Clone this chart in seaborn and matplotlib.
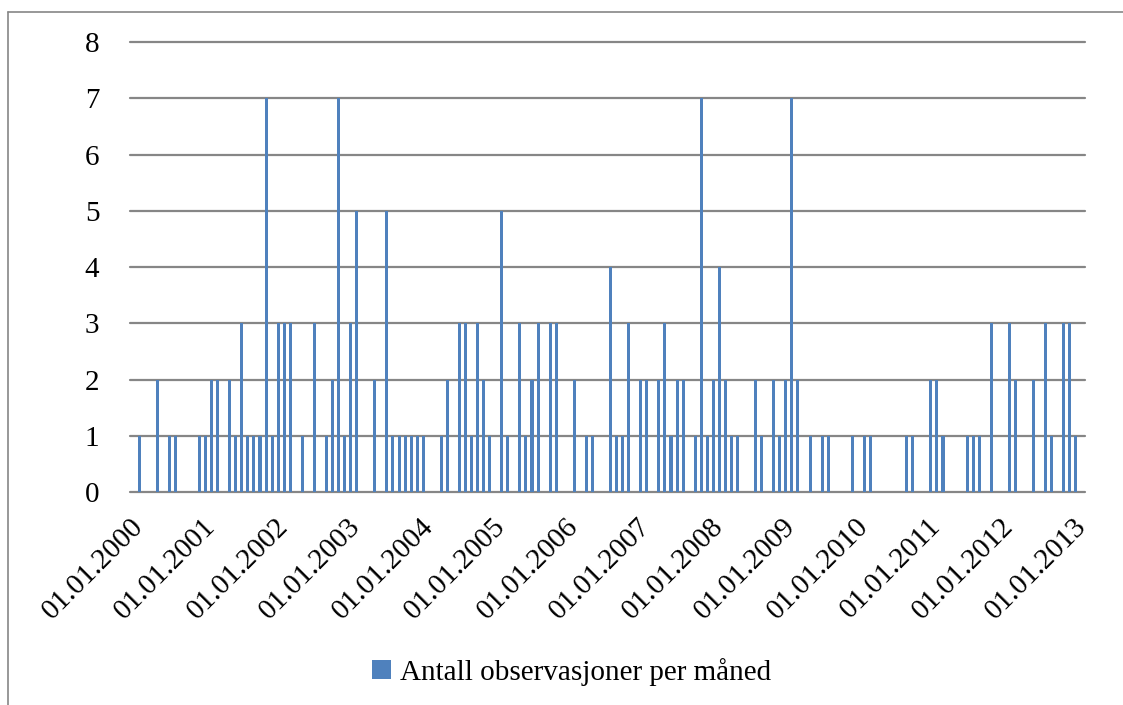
import numpy as np
import pandas as pd
import seaborn as sns
import matplotlib.pyplot as plt
from matplotlib.lines import Line2D
from matplotlib.patches import Patch

# Monthly number of observations, one list per calendar year (Jan..Dec)
counts_2000 = [1, 0, 0, 2, 0, 1, 1, 0, 0, 0, 1, 1]
counts_2001 = [2, 2, 0, 2, 1, 3, 1, 1, 1, 7, 1, 3]
counts_2002 = [3, 3, 0, 1, 0, 3, 0, 1, 2, 7, 1, 3]
counts_2003 = [5, 0, 0, 2, 0, 5, 1, 1, 1, 1, 1, 1]
counts_2004 = [0, 0, 1, 2, 0, 3, 3, 1, 3, 2, 1, 0]
counts_2005 = [5, 1, 0, 3, 1, 2, 3, 0, 3, 3, 0, 0]
counts_2006 = [2, 0, 1, 1, 0, 0, 4, 1, 1, 3, 0, 2]
counts_2007 = [2, 0, 2, 3, 1, 2, 2, 0, 1, 7, 1, 2]
counts_2008 = [4, 2, 1, 1, 0, 0, 2, 1, 0, 2, 1, 2]
counts_2009 = [7, 2, 0, 1, 0, 1, 1, 0, 0, 0, 1, 0]
counts_2010 = [1, 1, 0, 0, 0, 0, 0, 1, 1, 0, 0, 2]
counts_2011 = [2, 1, 0, 0, 0, 1, 1, 1, 0, 3, 0, 0]
counts_2012 = [3, 2, 0, 0, 2, 0, 3, 1, 0, 3, 3, 1]

yearly = [counts_2000, counts_2001, counts_2002, counts_2003, counts_2004,
          counts_2005, counts_2006, counts_2007, counts_2008, counts_2009,
          counts_2010, counts_2011, counts_2012]

tick_labels = ["01.01.%d" % y for y in range(2000, 2014)]
series_name = "Antall observasjoner per måned"

values = [v for year in yearly for v in year]
df = pd.DataFrame({"month": np.arange(len(values)), "antall": values})

sns.set_theme(style="white")
plt.rcParams["font.family"] = ["Liberation Serif", "DejaVu Serif"]
plt.rcParams["text.color"] = "black"
plt.rcParams["xtick.color"] = "black"
plt.rcParams["ytick.color"] = "black"

BLUE = "#4F81BD"
GRID = "#868686"
FS = 21

fig = plt.figure(figsize=(11.23, 7.05), dpi=100)
ax = fig.add_axes([0.1158, 0.3021, 0.9662 - 0.1158, 0.9404 - 0.3021])

sns.barplot(data=df, x="month", y="antall", color=BLUE, saturation=1,
            width=0.5, linewidth=0, ax=ax, zorder=3)

ax.set_xlim(-1.5, len(values) + 0.5)
ax.set_ylim(0, 8)
ax.set_yticks(range(0, 9))
ax.yaxis.grid(True, color=GRID, linewidth=1.6, zorder=0)
for gl in ax.yaxis.get_gridlines():
    gl.set_clip_on(False)
ax.xaxis.grid(False)
for s in ax.spines.values():
    s.set_visible(False)

ax.set_xticks(range(0, 12 * len(tick_labels), 12))
ax.set_xticklabels(tick_labels, rotation=45, ha="right", va="center",
                   rotation_mode="anchor", fontsize=FS, color="black")
ax.tick_params(axis="x", length=0, pad=22, labelcolor="black")
ax.tick_params(axis="y", length=0, pad=22, labelsize=FS, labelcolor="black")
ax.set_xlabel("")
ax.set_ylabel("")

# Legend below the axis labels
handle = Patch(facecolor=BLUE, edgecolor="none")
leg = fig.legend([handle], [series_name], loc="center",
                 bbox_to_anchor=(0.509, 0.047), frameon=False, fontsize=FS,
                 handlelength=0.65, handleheight=0.65, handletextpad=0.3)
for t in leg.get_texts():
    t.set_color("black")

# Chart frame (top and left edges)
W, H = 1123, 705
fig.add_artist(Line2D([8 / W, 8 / W], [0, 1 - 12 / H], color=GRID,
                      linewidth=1.2, transform=fig.transFigure))
fig.add_artist(Line2D([8 / W, 1], [1 - 12 / H, 1 - 12 / H], color=GRID,
                      linewidth=1.2, transform=fig.transFigure))

fig.savefig("out.png", dpi=100, facecolor="white")
